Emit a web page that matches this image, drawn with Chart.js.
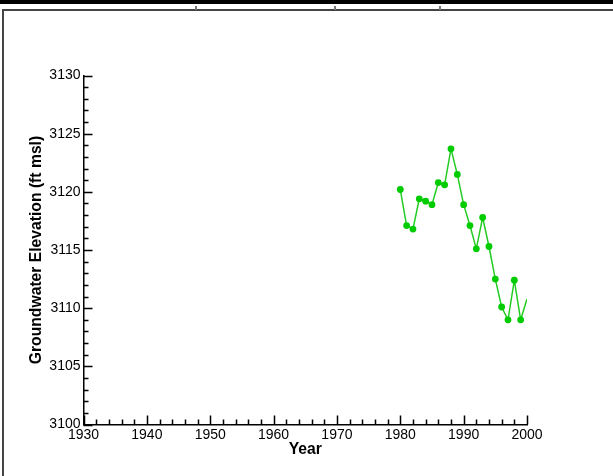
<!DOCTYPE html>
<html>
<head>
<meta charset="utf-8">
<script src="https://cdn.jsdelivr.net/npm/chart.js@4/dist/chart.umd.min.js"></script>
<style>
  body { margin: 0; background: #fff; }
  #wrap { position: relative; width: 613px; height: 476px; overflow: hidden; }
  #topbar { position: absolute; left: 0; top: 0; width: 613px; height: 4px; background: #000; }
  #frameTop { position: absolute; left: 2px; top: 9px; width: 611px; height: 2px; background: #444; }
  #frameLeft { position: absolute; left: 2px; top: 9px; width: 2px; height: 467px; background: #444; }
  .nub { position: absolute; top: 6px; width: 2px; height: 4px; background: #777; }
  canvas { position: absolute; left: 0; top: 0; }
</style>
</head>
<body>
<div id="wrap">
  <div id="topbar"></div>
  <div id="frameTop"></div>
  <div id="frameLeft"></div>
  <div class="nub" style="left:195px"></div>
  <div class="nub" style="left:334px"></div>
  <div class="nub" style="left:439px"></div>
  <canvas id="chart" width="613" height="476"></canvas>
</div>
<script>
// data
const years = [1980, 1981, 1982, 1983, 1984, 1985, 1986, 1987, 1988, 1989, 1990,
               1991, 1992, 1993, 1994, 1995, 1996, 1997, 1998, 1999, 2000]
const elevation = [3120.2, 3117.1, 3116.8, 3119.4, 3119.2, 3118.9, 3120.8, 3120.6, 3123.7, 3121.5, 3118.9,
                   3117.1, 3115.1, 3117.8, 3115.3, 3112.5, 3110.1, 3109.0, 3112.4, 3109.0, 3110.8]
const markerShown = [1, 1, 1, 1, 1, 1, 1, 1, 1, 1, 1, 1, 1, 1, 1, 1, 1, 1, 1, 1, 0]

const xTitle = 'Year'
const yTitle = 'Groundwater Elevation (ft msl)'

const green = '#00cc00'
const lineGreen = '#22cc22'

// minor + major ticks pointing into the plot
const tickPlugin = {
    id: 'innerTicks',
    afterDraw(chart){
        const ctx = chart.ctx
        const xs = chart.scales.x
        const ys = chart.scales.y
        ctx.save()
        ctx.strokeStyle = '#000'
        ctx.lineWidth = 1.5
        ctx.beginPath()
        for (let v = xs.min; v <= xs.max; v += 2){
            let px = Math.round(xs.getPixelForValue(v)) + 0.5
            let len = (v % 10 === 0) ? 9 : 5
            ctx.moveTo(px, xs.top)
            ctx.lineTo(px, xs.top - len)
        }
        for (let v = ys.min; v <= ys.max; v += 1){
            let py = Math.round(ys.getPixelForValue(v)) + 0.5
            let len = (v % 5 === 0) ? 9 : 5
            ctx.moveTo(ys.right, py)
            ctx.lineTo(ys.right + len, py)
        }
        ctx.stroke()
        ctx.restore()
    }
}

let points = years.map(function(y, i){
    return { x: y, y: elevation[i] }
})

let ctx = document.getElementById('chart').getContext('2d')
let chart = new Chart(ctx, {
    type: 'line',
    data: {
        datasets: [{
            data: points,
            borderColor: lineGreen,
            backgroundColor: green,
            borderWidth: 1.5,
            pointRadius: c => markerShown[c.dataIndex] ? 3.4 : 0,
            pointBorderWidth: 0,
            pointBackgroundColor: green,
            tension: 0,
            fill: false
        }]
    },
    options: {
        responsive: false,
        animation: false,
        devicePixelRatio: 1,
        layout: { padding: { top: 75.5, right: 86, left: 0, bottom: 0 } },
        plugins: { legend: { display: false }, tooltip: { enabled: false } },
        scales: {
            x: {
                type: 'linear',
                min: 1930,
                max: 2000,
                afterFit: s => { s.height = 51.5 },
                ticks: {
                    stepSize: 10,
                    padding: 2,
                    color: '#000',
                    maxRotation: 0,
                    font: { family: 'Liberation Sans, Arial, sans-serif', size: 14 },
                    callback: v => String(v)
                },
                grid: { drawOnChartArea: false, drawTicks: false },
                border: { display: true, color: '#000', width: 1.5 },
                title: {
                    display: true,
                    text: xTitle,
                    color: '#000',
                    font: { family: 'Liberation Sans, Arial, sans-serif', size: 15.7, weight: 'bold' },
                    padding: { top: 0, bottom: 16.5 }
                }
            },
            y: {
                type: 'linear',
                min: 3100,
                max: 3130,
                afterFit: s => { s.width = 83.5 },
                ticks: {
                    stepSize: 5,
                    padding: 3,
                    color: '#000',
                    font: { family: 'Liberation Sans, Arial, sans-serif', size: 14 },
                    callback: v => String(v)
                },
                grid: { drawOnChartArea: false, drawTicks: false },
                border: { display: true, color: '#000', width: 1.5 },
                title: {
                    display: true,
                    text: yTitle,
                    color: '#000',
                    font: { family: 'Liberation Sans, Arial, sans-serif', size: 15.7, weight: 'bold' },
                    padding: { top: 27.5, bottom: 0 }
                }
            }
        }
    },
    plugins: [tickPlugin]
})
</script>
</body>
</html>
